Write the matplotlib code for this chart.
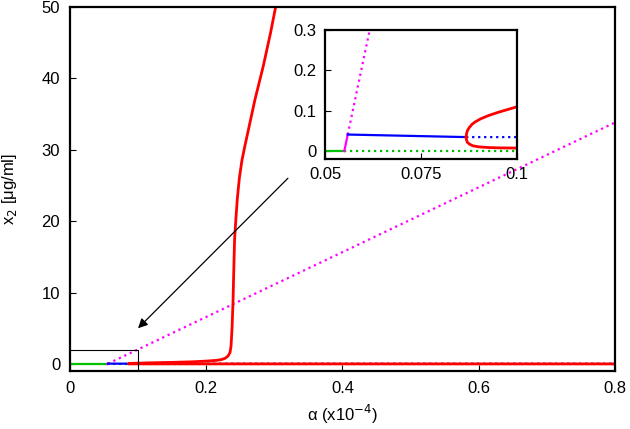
import matplotlib
matplotlib.use("Agg")
import matplotlib.pyplot as plt

plt.rcParams['font.family'] = ['Liberation Sans', 'DejaVu Sans']
plt.rcParams['font.size'] = 12

# stable zero branch (green)
green_solid_a = [0.0, 0.055]
green_solid_x = [0.0, 0.0]
green_dot_a = [0.055, 0.8]
green_dot_x = [0.0, 0.0]

# magenta branch
mag_solid_a = [0.055, 0.0559]
mag_solid_x = [0.0, 0.041]
mag_dot_a = [0.0559, 0.8]
mag_dot_x = [0.041, 33.8]

# blue branch
blue_solid_a = [0.0559, 0.0867]
blue_solid_x = [0.041, 0.0347]
blue_dot_a = [0.0867, 0.8]
blue_dot_x = [0.0347, 0.034]

# red branch, upper part
red_up_a = [0.0867, 0.0868, 0.087, 0.0875, 0.0882, 0.089, 0.0905, 0.0925, 0.095,
            0.0975, 0.1, 0.12, 0.15, 0.18, 0.2, 0.215, 0.222, 0.228, 0.232, 0.235,
            0.2365, 0.238, 0.2395, 0.2405, 0.2417, 0.2437, 0.2458, 0.2487, 0.2525,
            0.257, 0.2618, 0.2716, 0.2838, 0.2946, 0.302]
red_up_x = [0.0347, 0.042, 0.05, 0.058, 0.066, 0.072, 0.08, 0.088, 0.096,
            0.103, 0.11, 0.16, 0.22, 0.3, 0.4, 0.5, 0.6, 0.8, 1.1, 1.6,
            2.5, 5.0, 9.0, 13.0, 17.4, 20.4, 23.2, 26.0, 28.5,
            30.6, 32.7, 37.0, 41.7, 46.4, 50.0]
# red branch, lower part
red_lo_a = [0.0867, 0.0868, 0.087, 0.0876, 0.0885, 0.09, 0.0925, 0.0955, 0.1,
            0.2, 0.4, 0.6, 0.8]
red_lo_x = [0.0347, 0.028, 0.022, 0.017, 0.013, 0.0105, 0.0088, 0.008, 0.0075,
            0.006, 0.005, 0.005, 0.005]

dots = (0, (1, 1.7))


def draw_branches(ax, lw):
    ax.plot(green_dot_a, green_dot_x, color='#00c000', lw=lw, ls=dots)
    ax.plot(blue_dot_a, blue_dot_x, color='#0000ff', lw=lw, ls=dots)
    ax.plot(mag_dot_a, mag_dot_x, color='#ff00ff', lw=lw, ls=dots)
    ax.plot(green_solid_a, green_solid_x, color='#00c000', lw=lw)
    ax.plot(mag_solid_a, mag_solid_x, color='#ff00ff', lw=lw)
    ax.plot(blue_solid_a, blue_solid_x, color='#0000ff', lw=lw)
    ax.plot(red_up_a, red_up_x, color='#ff0000', lw=lw + 0.4)
    ax.plot(red_lo_a, red_lo_x, color='#ff0000', lw=lw + 0.4)


fig = plt.figure(figsize=(6.3, 4.29), dpi=100)
ax = fig.add_axes([0.111, 0.135, 0.865, 0.849])
draw_branches(ax, 1.6)
ax.set_xlim(0, 0.8)
ax.set_ylim(-1, 50)
ax.set_xticks([0, 0.2, 0.4, 0.6, 0.8])
ax.set_xticklabels(['0', '0.2', '0.4', '0.6', '0.8'])
ax.set_yticks([0, 10, 20, 30, 40, 50])
ax.tick_params(direction='in', length=4, top=False, right=False, pad=7)
for s in ax.spines.values():
    s.set_linewidth(1.6)
ax.set_xlabel(r'α (x10$^{-4}$)', labelpad=5)
ax.set_ylabel(r'x$_2$ [μg/ml]', labelpad=16)

# zoom box and arrow
ax.plot([0, 0.1, 0.1], [2, 2, -1], color='black', lw=0.8)
ax.annotate('', xy=(0.1, 5), xytext=(0.32, 26),
            arrowprops=dict(arrowstyle='-|>', color='black', lw=0.9,
                            mutation_scale=14, shrinkA=0, shrinkB=0))

ins = fig.add_axes([0.516, 0.629, 0.305, 0.301])
draw_branches(ins, 1.6)
ins.set_xlim(0.05, 0.1)
ins.set_ylim(-0.02, 0.3)
ins.set_xticks([0.05, 0.075, 0.1])
ins.set_xticklabels(['0.05', '0.075', '0.1'])
ins.set_yticks([0, 0.1, 0.2, 0.3])
ins.set_yticklabels(['0', '0.1', '0.2', '0.3'])
ins.tick_params(direction='in', length=4, top=False, right=False, pad=6)
for s in ins.spines.values():
    s.set_linewidth(1.6)

fig.savefig('out.png', dpi=100)
